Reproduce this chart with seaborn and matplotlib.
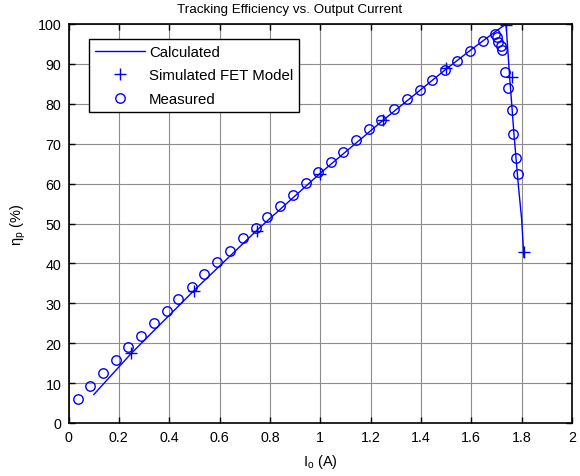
import numpy as np
import pandas as pd
import matplotlib
matplotlib.use("Agg")
import matplotlib.pyplot as plt
import seaborn as sns

# ---- data ----
calc_x = [0.10, 0.25, 0.50, 0.75, 1.00, 1.25, 1.50, 1.60, 1.70, 1.738, 1.752, 1.770, 1.787, 1.800, 1.809]
calc_y = [7.1, 17.5, 33.3, 48.4, 62.6, 75.9, 88.7, 93.6, 98.3, 100.0, 87.0, 72.0, 59.5, 51.1, 41.5]

sim_x = [0.25, 0.50, 0.75, 1.00, 1.25, 1.50, 1.738, 1.760, 1.809]
sim_y = [17.5, 33.2, 48.2, 62.4, 76.0, 88.9, 99.8, 86.6, 42.8]

meas_x = [0.039, 0.085, 0.136, 0.187, 0.238, 0.288, 0.341, 0.390, 0.436, 0.489,
          0.538, 0.590, 0.640, 0.692, 0.743, 0.790, 0.840, 0.892, 0.943, 0.992,
          1.043, 1.092, 1.141, 1.193, 1.243, 1.293, 1.346, 1.396, 1.443, 1.494,
          1.544, 1.595, 1.648, 1.694, 1.701, 1.708, 1.717, 1.723, 1.734, 1.747,
          1.760, 1.764, 1.776, 1.787]
meas_y = [6.1, 9.35, 12.5, 15.8, 19.0, 21.8, 25.1, 28.0, 31.2, 34.2,
          37.3, 40.3, 43.2, 46.3, 48.8, 51.7, 54.3, 57.2, 60.2, 63.0,
          65.5, 68.0, 70.9, 73.6, 76.0, 78.7, 81.2, 83.5, 86.0, 88.5,
          90.8, 93.3, 95.8, 97.5, 96.7, 95.6, 94.6, 93.6, 88.0, 83.9,
          78.4, 72.4, 66.3, 62.3]

xticks = [0, 0.2, 0.4, 0.6, 0.8, 1, 1.2, 1.4, 1.6, 1.8, 2]
xticklabels = ["0", "0.2", "0.4", "0.6", "0.8", "1", "1.2", "1.4", "1.6", "1.8", "2"]
yticks = list(range(0, 101, 10))

title = "Tracking Efficiency vs. Output Current"

# ---- style ----
sns.set_style("ticks")
plt.rcParams["font.family"] = ["Liberation Sans", "DejaVu Sans"]
plt.rcParams["mathtext.fontset"] = "custom"
plt.rcParams["mathtext.rm"] = "Liberation Sans"
plt.rcParams["mathtext.it"] = "Liberation Sans:italic"
plt.rcParams["text.color"] = "black"
plt.rcParams["axes.labelcolor"] = "black"
FS_TITLE = 9.6
FS_TICK = 10.3
FS_LABEL = 10.5
FS_LEG = 10.8

fig = plt.figure(figsize=(5.8, 4.77), dpi=100)
ax = fig.add_axes([68.5 / 580, 1 - 424 / 477, (572 - 68.5) / 580, (424 - 25) / 477])

blue = "#0000FF"
calc_df = pd.DataFrame({"x": calc_x, "y": calc_y})
sim_df = pd.DataFrame({"x": sim_x, "y": sim_y})
meas_df = pd.DataFrame({"x": meas_x, "y": meas_y})

sns.lineplot(data=calc_df, x="x", y="y", ax=ax, color=blue, lw=1.0,
             sort=False, estimator=None, label="Calculated")
sns.lineplot(data=sim_df, x="x", y="y", ax=ax, color=blue, linestyle="none",
             marker="+", markersize=8, markeredgewidth=1.0,
             markeredgecolor=blue, markerfacecolor=blue,
             sort=False, estimator=None, label="Simulated FET Model")
sns.lineplot(data=meas_df, x="x", y="y", ax=ax, color=blue, linestyle="none",
             marker="o", markersize=6.8, markerfacecolor="none",
             markeredgecolor=blue, markeredgewidth=1.0,
             sort=False, estimator=None, label="Measured")

ax.set_xlim(0, 2)
ax.set_ylim(0, 100)
ax.set_xticks(xticks)
ax.set_xticklabels(xticklabels)
ax.set_yticks(yticks)
ax.grid(True, color="#8c8c8c", lw=0.8)
ax.set_axisbelow(True)
ax.tick_params(direction="in", length=4, width=1, top=True, right=True,
               labelsize=FS_TICK, pad=5, colors="black")
for s in ax.spines.values():
    s.set_visible(True)
    s.set_color("black")
    s.set_linewidth(1.2)

ax.set_title(title, fontsize=FS_TITLE, pad=8.3, x=(290 - 68.5) / (572 - 68.5))
ax.set_xlabel(r"$\mathregular{I_o}$ (A)", fontsize=FS_LABEL, labelpad=6)
ax.set_ylabel(r"$\mathregular{\eta_p}$ (%)", fontsize=FS_LABEL, labelpad=7)

leg = ax.legend(loc="upper left", bbox_to_anchor=(0.041, 0.962), fontsize=FS_LEG,
                frameon=True, fancybox=False, edgecolor="black", framealpha=1,
                handlelength=3.3, handletextpad=0.3, borderpad=0.4,
                labelspacing=0.62, borderaxespad=0)
leg.get_frame().set_linewidth(1.0)

fig.savefig("out.png", dpi=100)
